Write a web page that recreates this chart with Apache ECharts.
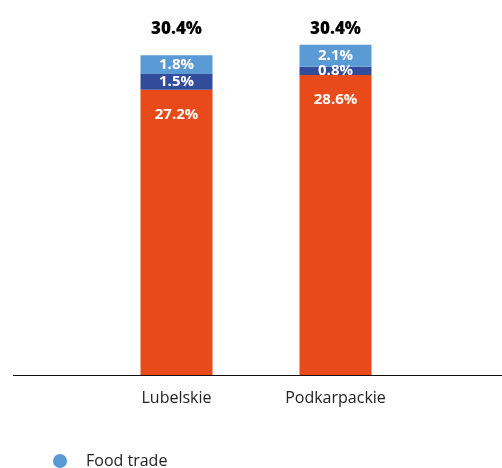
<!DOCTYPE html>
<html>
<head>
<meta charset="utf-8">
<script src="https://cdn.jsdelivr.net/npm/echarts@6/dist/echarts.min.js"></script>
<style>
  html, body { margin: 0; padding: 0; background: #fff; }
  #main { width: 502px; height: 468px; }
</style>
</head>
<body>
<div id="main"></div>
<script>
// regions on the x axis
var regions = ['Lubelskie', 'Podkarpackie'];
// stacked shares, bottom to top
var agriculture = [27.2, 28.6];
var foodIndustry = [1.5, 0.8];
var foodTrade = [1.8, 2.1];
// totals shown above the bars
var totals = ['30.4%', '30.4%'];

var myChart = echarts.init(document.getElementById('main'));
var font = 'Open Sans';

function segLabel(pos, dist) {
    return {
        show: true,
        position: pos,
        distance: dist,
        color: '#fff',
        fontFamily: font,
        fontWeight: 'bold',
        fontSize: 15,
        formatter: function (p) { return p.value.toFixed(1) + '%'; }
    };
}

var option = {
    animation: false,
    grid: { left: 97, width: 318, top: 8, bottom: 93, containLabel: false },
    legend: {
        data: ['Food trade'],
        left: 48,
        top: 448,
        icon: 'circle',
        itemWidth: 14,
        itemHeight: 14,
        textStyle: { fontFamily: font, fontSize: 16, color: '#222', padding: [0, 0, 0, 14] }
    },
    xAxis: {
        type: 'category',
        data: regions,
        axisLine: { show: false },
        axisTick: { show: false },
        axisLabel: { fontFamily: font, fontSize: 16, color: '#222', margin: 15 }
    },
    yAxis: {
        type: 'value',
        min: 0,
        max: 35,
        show: false,
        splitLine: { show: false }
    },
    graphic: [{
        type: 'line',
        shape: { x1: 13, y1: 375.5, x2: 502, y2: 375.5 },
        style: { stroke: '#111', lineWidth: 1 },
        z: 10
    }],
    series: [
        {
            name: 'Agriculture',
            type: 'bar',
            stack: 'total',
            barWidth: 72,
            data: agriculture,
            itemStyle: { color: '#e84b19' },
            label: segLabel('insideTop', 17)
        },
        {
            name: 'Food industry',
            type: 'bar',
            stack: 'total',
            data: foodIndustry,
            itemStyle: { color: '#314c9b' },
            label: segLabel('inside', 0)
        },
        {
            name: 'Food trade',
            type: 'bar',
            stack: 'total',
            data: foodTrade,
            itemStyle: { color: '#5b9bd5' },
            label: segLabel('inside', 0)
        },
        {
            name: 'Total',
            type: 'scatter',
            symbolSize: 0,
            itemStyle: { opacity: 1 },
            data: totals.map(function (t, i) { return [regions[i], 33.0]; }),
            label: {
                show: true,
                position: 'inside',
                color: '#000',
                fontFamily: font,
                fontWeight: 800,
                fontSize: 17,
                formatter: function (p) { return totals[p.dataIndex]; }
            }
        }
    ]
};

myChart.setOption(option);
</script>
</body>
</html>
